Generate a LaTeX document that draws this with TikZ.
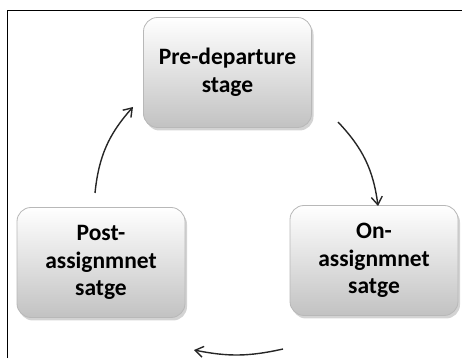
\documentclass[tikz,border=0pt]{standalone}
\usepackage{fontspec}
\setmainfont{Carlito}
\usepackage{tikz}
\usetikzlibrary{arrows.meta,positioning,shadows}
\definecolor{edge}{HTML}{B8B8B8}
\definecolor{shade}{HTML}{C2C2C2}
\tikzset{
  >={Straight Barb[length=8pt,width=11pt,line width=1.4pt]},
  stagebox/.style={rounded corners=14pt,draw=edge,line width=0.8pt,top color=white,bottom color=shade,
    drop shadow={opacity=0.35,shadow xshift=2pt,shadow yshift=-3pt},
    minimum width=168pt,minimum height=110pt,align=center,font=\fontsize{23.5}{27.5}\selectfont\bfseries},
  arr/.style={->,line width=1.4pt,black!85},
}
\begin{document}
\begin{tikzpicture}[x=1pt,y=1pt]
\useasboundingbox (0,0) rectangle (462,358);
\draw[line width=1pt] (7.5,0) -- (7.5,347.5) -- (462,347.5);
\node[stagebox] (pre) at (227.5,285.5) {Pre-departure\\stage};
\node[stagebox] (post) at (101,95.5) {Post-\\assignmnet\\satge};
\node[stagebox] (on) at (374,97.5) {On-\\assignmnet\\satge};
% connectors
\coordinate (p1) at (338,236); \coordinate (p2) at (378,152);
\coordinate (q1) at (283,9); \coordinate (q2) at (194,8);
\coordinate (r1) at (95,165); \coordinate (r2) at (133,251);
\draw[arr] (p1) to[bend left=18] (p2);
\draw[arr] (q1) to[bend left=12] (q2);
\draw[arr] (r1) to[bend left=18] (r2);
\end{tikzpicture}
\end{document}
